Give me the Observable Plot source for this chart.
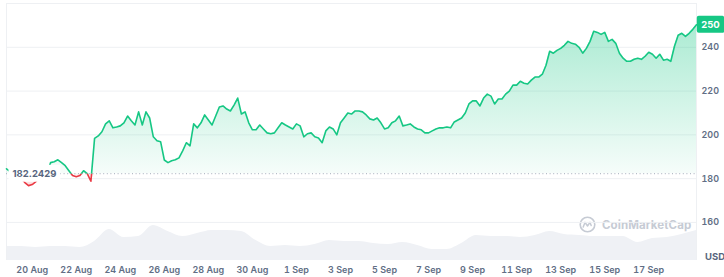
<!DOCTYPE html>
<html><head><meta charset="utf-8">
<script src="https://cdn.jsdelivr.net/npm/d3@7"></script>
<script src="https://cdn.jsdelivr.net/npm/@observablehq/plot@0.6"></script>
<style>
html,body{margin:0;padding:0;background:#fff;}
#wrap{position:relative;width:724px;height:277px;font-family:Inter,"Noto Sans",sans-serif;overflow:hidden;}
#wrap > svg{position:absolute;left:0;top:0;}
#wm{position:absolute;left:579px;top:216px;display:flex;align-items:center;gap:6px;color:#c6cbd4;font-size:11.5px;font-weight:700;letter-spacing:0.1px;}
#usd{position:absolute;left:705px;top:251px;color:#58667e;font-size:9.5px;font-weight:700;}
</style></head><body><div id="wrap"></div>
<script>
// ---- data ----
const startTime = "2024-08-18T20:00:00Z";
const endTime = "2024-09-19T04:00:00Z";
const priceStepHours = 4;
const prices = [
184.5, 183.2, 181.8, 180.9, 180.0, 178.2, 176.8, 177.3, 178.6, 180.5,
181.4, 182.3, 187.3, 187.7, 188.6, 187.3, 185.9, 183.6, 181.4, 180.9,
181.4, 183.6, 182.3, 178.8, 198.4, 199.5, 201.4, 205.0, 206.4, 203.2,
203.6, 204.1, 205.5, 208.6, 206.4, 204.5, 210.5, 204.5, 210.5, 207.7,
199.1, 197.3, 196.8, 188.5, 187.3, 188.2, 188.6, 189.5, 192.7, 196.4,
195.0, 205.0, 203.2, 205.5, 209.1, 206.8, 204.5, 208.6, 212.7, 213.2,
211.8, 210.9, 213.6, 216.8, 209.5, 210.5, 205.5, 202.3, 202.3, 204.5,
202.7, 200.9, 200.5, 200.9, 203.2, 205.5, 204.5, 203.6, 202.7, 205.0,
204.1, 199.1, 200.5, 200.9, 199.1, 198.6, 196.4, 201.8, 203.6, 202.7,
200.0, 205.5, 207.7, 210.0, 209.5, 210.9, 210.9, 210.5, 209.1, 207.3,
206.8, 207.7, 205.5, 202.7, 203.2, 205.5, 206.4, 208.6, 204.1, 204.5,
205.0, 203.6, 202.7, 202.3, 200.9, 200.9, 201.8, 202.7, 203.2, 203.2,
203.6, 203.2, 205.9, 206.8, 207.7, 210.0, 214.1, 215.5, 215.5, 213.2,
216.8, 218.6, 217.7, 214.1, 216.4, 216.4, 218.6, 220.0, 222.7, 222.7,
224.5, 223.6, 223.2, 225.0, 226.4, 226.4, 227.7, 231.8, 238.2, 237.3,
238.6, 239.5, 240.9, 242.7, 241.8, 241.4, 240.0, 237.3, 239.5, 242.7,
247.3, 246.8, 245.9, 246.8, 242.7, 243.6, 241.8, 237.3, 235.0, 233.6,
233.6, 234.5, 235.0, 234.5, 235.9, 237.7, 236.8, 235.0, 236.8, 234.1,
234.5, 233.6, 240.5, 245.5, 246.4, 245.0, 246.4, 248.2, 250.3
];
const volumeStepHours = 16;
const volumes = [
1.4,1.4,1.3,1.4,1.4,1.3,1.9,3.1,2.3,2.4,
3.5,2.9,2.4,2.7,3.0,3.0,2.9,2.0,1.4,1.5,
1.4,1.6,2.0,1.9,1.9,1.7,1.6,1.8,1.5,1.1,
1.1,1.7,2.5,2.4,2.4,2.3,2.5,2.9,2.6,2.5,
2.4,2.4,2.4,1.8,2.2,2.3,2.6,3.0
];
const baseline = 182.2429;
const xTickDates = ["2024-08-20","2024-08-22","2024-08-24","2024-08-26","2024-08-28","2024-08-30","2024-09-01","2024-09-03","2024-09-05","2024-09-07","2024-09-09","2024-09-11","2024-09-13","2024-09-15","2024-09-17"];
const yTicks = [160, 180, 200, 220, 240];
const gridTicks = [160, 180, 200, 220, 240, 260];
const currency = "USD";
const watermark = "CoinMarketCap";

// ---- layout ----
const W = 724, H = 277, mL = 6, mR = 28, mT = 3, mB = 17;
const yDomain = [142.6, 260];
const up = "#16c784", down = "#ea3943";

const t0 = new Date(startTime), t1 = new Date(endTime);
const data = prices.map((v, i) => ({t: d3.utcHour.offset(t0, i * priceStepHours), v}));
const vdata = volumes.map((v, i) => ({t: d3.utcHour.offset(t0, i * volumeStepHours), v}));
const xTicks = xTickDates.map(s => new Date(s + "T00:00:00Z"));

const volPlot = Plot.plot({
  width: W, height: H, marginLeft: mL, marginRight: mR, marginTop: mT, marginBottom: mB,
  style: {background: "transparent"},
  x: {type: "utc", domain: [t0, t1], axis: null},
  y: {domain: [0, 3.5], range: [H - mB, H - mB - 35], axis: null},
  marks: [
    Plot.areaY(vdata, {x: "t", y: "v", fill: "#eff1f5", curve: "monotone-x"})
  ]
});

const mainPlot = Plot.plot({
  width: W, height: H, marginLeft: mL, marginRight: mR, marginTop: mT, marginBottom: mB,
  style: {background: "transparent", fontFamily: "Inter, sans-serif", fontSize: "9px", fontWeight: 600, color: "#616e85"},
  x: {type: "utc", domain: [t0, t1], ticks: xTicks, tickFormat: d3.utcFormat("%-d %b"), tickSize: 0, tickPadding: 6, label: null},
  y: {domain: yDomain, ticks: yTicks, axis: "right", tickSize: 0, tickPadding: 5, label: null},
  marks: [
    Plot.ruleY(gridTicks, {stroke: "#eef0f3"}),
    Plot.ruleX([t0, t1], {stroke: "#eef0f3", y1: yDomain[0], y2: yDomain[1]}),
    Plot.areaY(data, {x: "t", y1: baseline, y2: d => Math.max(d.v, baseline), fill: up}),
    Plot.areaY(data, {x: "t", y1: baseline, y2: d => Math.min(d.v, baseline), fill: down}),
    Plot.ruleY([baseline], {stroke: "#a3abb9", strokeDasharray: "1,2.6"}),
    Plot.lineY(data, {x: "t", y: "v", stroke: up, strokeWidth: 1.6}),
    Plot.lineY(data, {x: "t", y: "v", stroke: down, strokeWidth: 1.6}),
    Plot.text([baseline], {y: d => d, frameAnchor: "left", textAnchor: "start", dx: 6, text: d => String(d), fill: "#58667e", fontWeight: 700, fontSize: 9.5}),
    Plot.text([data[data.length - 1]], {x: "t", y: "v", text: d => String(Math.round(d.v)), dx: 14, textAnchor: "middle", fill: "white", fontWeight: 700, fontSize: 9.5})
  ]
});

const wrap = document.getElementById("wrap");
wrap.append(volPlot);
const wm = document.createElement("div");
wm.id = "wm";
wm.innerHTML = '<svg width="17" height="17" viewBox="0 0 17 17"><circle cx="8.5" cy="8.5" r="7.3" fill="none" stroke="#c6cbd4" stroke-width="1.6"/><path d="M4.2 11 L6 6.4 L8.5 10 L11 6.4 L12.2 9.6" fill="none" stroke="#c6cbd4" stroke-width="1.5" stroke-linejoin="round" stroke-linecap="round"/></svg>';
const wmText = document.createElement("span");
wmText.textContent = watermark;
wm.append(wmText);
wrap.append(wm);
wrap.append(mainPlot);
const usd = document.createElement("div");
usd.id = "usd";
usd.textContent = currency;
wrap.append(usd);

// ---- post-processing: gradients, clip by baseline, label boxes ----
const svg = d3.select(mainPlot);
const ys = mainPlot.scale("y");
const yb = ys.apply(baseline);
const yTop = ys.apply(d3.max(prices));
const defs = svg.insert("defs", ":first-child");
defs.append("clipPath").attr("id", "clipAbove").append("rect").attr("x", 0).attr("y", 0).attr("width", W).attr("height", yb);
defs.append("clipPath").attr("id", "clipBelow").append("rect").attr("x", 0).attr("y", yb).attr("width", W).attr("height", H - yb);
const gG = defs.append("linearGradient").attr("id", "gradUp").attr("gradientUnits", "userSpaceOnUse")
  .attr("x1", 0).attr("x2", 0).attr("y1", yTop).attr("y2", yb);
gG.append("stop").attr("offset", 0).attr("stop-color", up).attr("stop-opacity", 0.36);
gG.append("stop").attr("offset", 1).attr("stop-color", up).attr("stop-opacity", 0.04);
const gR = defs.append("linearGradient").attr("id", "gradDown").attr("gradientUnits", "userSpaceOnUse")
  .attr("x1", 0).attr("x2", 0).attr("y1", yb).attr("y2", ys.apply(d3.min(prices)));
gR.append("stop").attr("offset", 0).attr("stop-color", down).attr("stop-opacity", 0.04);
gR.append("stop").attr("offset", 1).attr("stop-color", down).attr("stop-opacity", 0.18);

const areas = svg.selectAll('g[aria-label="area"]').nodes();
if (areas[0]) { d3.select(areas[0]).attr("fill", "url(#gradUp)").selectAll("path").attr("fill", "url(#gradUp)"); }
if (areas[1]) { d3.select(areas[1]).attr("fill", "url(#gradDown)").selectAll("path").attr("fill", "url(#gradDown)"); }
const lines = svg.selectAll('g[aria-label="line"]').nodes();
if (lines[0]) lines[0].setAttribute("clip-path", "url(#clipAbove)");
if (lines[1]) lines[1].setAttribute("clip-path", "url(#clipBelow)");

const texts = svg.selectAll('g[aria-label="text"]').nodes();
function boxBehind(g, fill, padX, padY, rx) {
  const t = g.querySelector("text");
  if (!t) return;
  const b = t.getBBox();
  const r = document.createElementNS("http://www.w3.org/2000/svg", "rect");
  r.setAttribute("x", b.x - padX);
  r.setAttribute("y", b.y - padY);
  r.setAttribute("width", b.width + 2 * padX);
  r.setAttribute("height", b.height + 2 * padY);
  r.setAttribute("fill", fill);
  r.setAttribute("rx", rx);
  const tr = t.getAttribute("transform");
  if (tr) r.setAttribute("transform", tr);
  t.parentNode.insertBefore(r, t);
}
if (texts[0]) boxBehind(texts[0], "white", 4, 3, 0);
if (texts[1]) boxBehind(texts[1], up, 4.5, 3, 2);
</script></body></html>
